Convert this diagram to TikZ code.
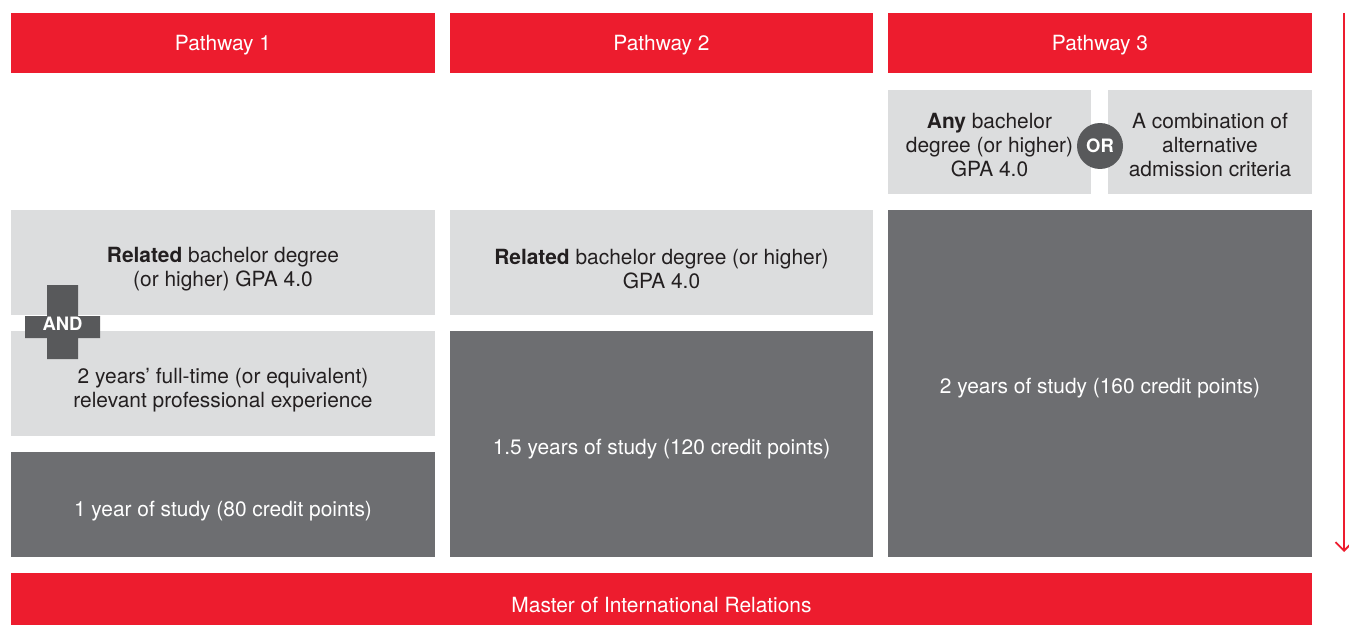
\documentclass[tikz,border=0pt]{standalone}
\usepackage{fontspec}
\setmainfont{TeX Gyre Heros}
\usetikzlibrary{arrows.meta}
\definecolor{pathred}{HTML}{ED1C2E}
\definecolor{lightbox}{HTML}{DCDDDE}
\definecolor{darkbox}{HTML}{6D6E71}
\definecolor{signgray}{HTML}{58595B}
\definecolor{boxtext}{HTML}{231F20}
\tikzset{
	redbar/.style={fill=pathred, inner sep=0pt},
	lightcell/.style={fill=lightbox, inner sep=0pt},
	darkcell/.style={fill=darkbox, inner sep=0pt},
	celltext/.style={inner sep=0pt, align=center, font=\fontsize{11.9}{13.6}\selectfont},
	signtext/.style={text=white, inner sep=0pt, font=\bfseries\fontsize{10.5}{12}\selectfont},
}
\begin{document}
\begin{tikzpicture}
	\useasboundingbox (0,0) rectangle (26.98,-12.50);
	\node[redbar, minimum width=8.48cm, minimum height=1.20cm] (head1) at (4.46,-0.86) {};
	\node[redbar, minimum width=8.46cm, minimum height=1.20cm] (head2) at (13.23,-0.86) {};
	\node[redbar, minimum width=8.48cm, minimum height=1.20cm] (head3) at (22.00,-0.86) {};
	\node[lightcell, minimum width=4.06cm, minimum height=2.08cm] (anydeg) at (19.79,-2.84) {};
	\node[lightcell, minimum width=4.08cm, minimum height=2.08cm] (altcrit) at (24.20,-2.84) {};
	\node[lightcell, minimum width=8.48cm, minimum height=2.10cm] (reldeg1) at (4.46,-5.25) {};
	\node[lightcell, minimum width=8.48cm, minimum height=2.10cm] (profexp) at (4.46,-7.67) {};
	\node[darkcell, minimum width=8.48cm, minimum height=2.10cm] (study1) at (4.46,-10.09) {};
	\node[lightcell, minimum width=8.46cm, minimum height=2.10cm] (reldeg2) at (13.23,-5.25) {};
	\node[darkcell, minimum width=8.46cm, minimum height=4.52cm] (study2) at (13.23,-8.88) {};
	\node[darkcell, minimum width=8.48cm, minimum height=6.94cm] (study3) at (22.00,-7.67) {};
	\node[redbar, minimum width=26.02cm, minimum height=1.24cm] (degree) at (13.23,-12.08) {};
	\node[celltext, text=white] (head1txt) at ([yshift=-0.04cm]head1) {Pathway 1};
	\node[celltext, text=white] (head2txt) at ([yshift=-0.04cm]head2) {Pathway 2};
	\node[celltext, text=white] (head3txt) at ([yshift=-0.04cm]head3) {Pathway 3};
	\node[celltext, text=boxtext] (anydegtxt) at ([yshift=-0.06cm]anydeg) {\textbf{Any} bachelor\\degree (or higher)\\GPA 4.0};
	\node[celltext, text=boxtext] (altcrittxt) at ([yshift=-0.06cm]altcrit) {A combination of\\alternative\\admission criteria};
	\node[circle, fill=signgray, minimum size=0.92cm, signtext] (orsign) at (22.00,-2.92) {OR};
	\node[celltext, text=boxtext] (reldeg1txt) at ([yshift=-0.13cm]reldeg1) {\textbf{Related} bachelor degree\\(or higher) GPA 4.0};
	\node[celltext, text=boxtext] (profexptxt) at ([yshift=-0.13cm]profexp) {2 years' full-time (or equivalent)\\relevant professional experience};
	\node[celltext, text=white] (study1txt) at ([yshift=-0.13cm]study1) {1 year of study (80 credit points)};
	\fill[signgray] (0.94,-5.70) -- (1.56,-5.70) -- (1.56,-6.32) -- (2.00,-6.32) -- (2.00,-6.76) -- (1.56,-6.76) -- (1.56,-7.18) -- (0.94,-7.18) -- (0.94,-6.76) -- (0.50,-6.76) -- (0.50,-6.32) -- (0.94,-6.32) -- cycle;
	\node[signtext] (andsign) at (1.25,-6.47) {AND};
	\node[celltext, text=boxtext] (reldeg2txt) at ([yshift=-0.13cm]reldeg2) {\textbf{Related} bachelor degree (or higher)\\GPA 4.0};
	\node[celltext, text=white] (study2txt) at ([yshift=-0.10cm]study2) {1.5 years of study (120 credit points)};
	\node[celltext, text=white] (study3txt) at ([yshift=-0.10cm]study3) {2 years of study (160 credit points)};
	\node[celltext, text=white] (degreetxt) at ([yshift=-0.02cm]degree) {Master of International Relations};
	\coordinate (flowtop) at (26.88,-0.26);
	\coordinate (flowend) at (26.88,-11.04);
	\draw[pathred, line width=1.1pt, -{Straight Barb[length=1.7mm, width=3.4mm]}] (flowtop) -- (flowend);
\end{tikzpicture}
\end{document}
